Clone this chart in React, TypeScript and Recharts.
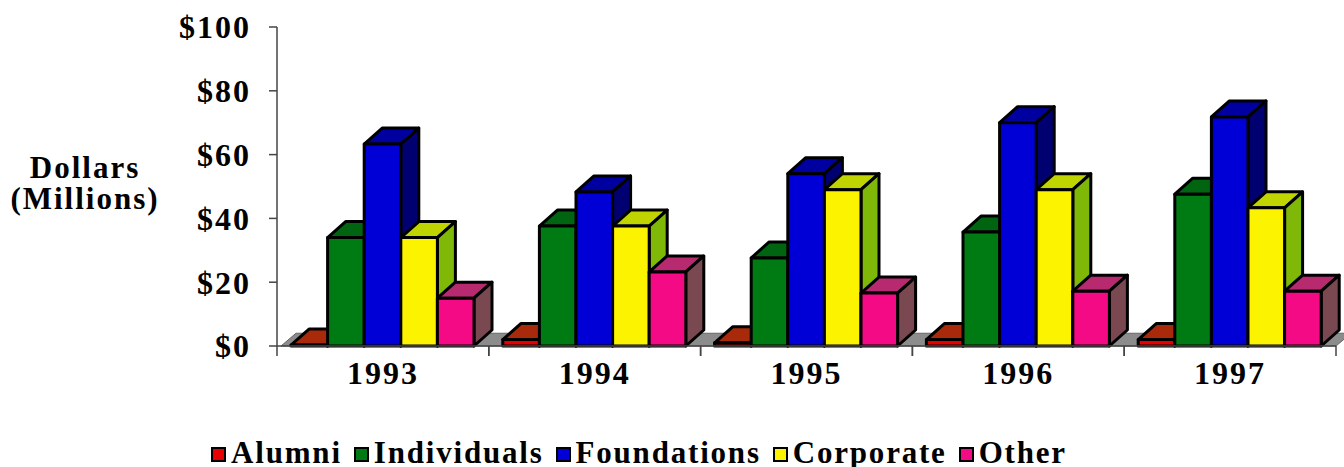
import { BarChart, Bar, XAxis, YAxis, Legend, ReferenceArea } from 'recharts';

const years = ['1993', '1994', '1995', '1996', '1997'];
const alumni = [0.3, 2, 1, 2, 2];
const individuals = [34, 37.6, 27.6, 35.7, 47.6];
const foundations = [63.3, 48.3, 54, 70, 71.8];
const corporate = [34, 37.6, 49, 49, 43.3];
const other = [15, 23.2, 16.6, 17.2, 17.2];
const yTicks = [0, 20, 40, 60, 80, 100];

const data = years.map((year, i) => ({
  year,
  Alumni: alumni[i],
  Individuals: individuals[i],
  Foundations: foundations[i],
  Corporate: corporate[i],
  Other: other[i],
}));

const series = [
  { key: 'Alumni', front: '#e60000', top: '#a82a0a', side: '#8a2408' },
  { key: 'Individuals', front: '#007a12', top: '#006410', side: '#004c0c' },
  { key: 'Foundations', front: '#0000d6', top: '#0000a0', side: '#000070' },
  { key: 'Corporate', front: '#fbf300', top: '#c0d400', side: '#80b808' },
  { key: 'Other', front: '#f50a85', top: '#b82a70', side: '#7a4850' },
];

const FONT = '"Liberation Serif", "Times New Roman", serif';
const DX = 18;
const DY = 16;
const BAND = 211.8;

// fake 3D column: front face plus top and side parallelograms
const Bar3D = ({ x, y, width, height, front, top, side }: any) => {
  const r = x + width;
  const b = y + height;
  return (
    <g stroke="#000" strokeWidth={3} strokeLinejoin="round">
      <path d={`M${x},${y} L${x + DX},${y - DY} L${r + DX},${y - DY} L${r},${y} Z`} fill={top} />
      <path d={`M${r},${y} L${r + DX},${y - DY} L${r + DX},${b - DY} L${r},${b} Z`} fill={side} />
      <rect x={x} y={y} width={width} height={height} fill={front} />
    </g>
  );
};

const Floor = ({ x, y, width, height }: any) => {
  const b = y + height;
  return (
    <path
      d={`M${x + 4},${b} L${x + 19},${y} L${x + width + 15},${y} L${x + width},${b} Z`}
      fill="#8c8c8c"
      stroke="#666"
      strokeWidth={1}
    />
  );
};

const AxisTitle = () => (
  <text x={85} y={178} textAnchor="middle" fontFamily={FONT} fontWeight="bold" fontSize={31} letterSpacing={2} fill="#000">
    <tspan x={85}>Dollars</tspan>
    <tspan x={85} dy={31}>(Millions)</tspan>
  </text>
);

const LegendRow = () => (
  <div style={{ display: 'flex', justifyContent: 'center', fontFamily: FONT, fontWeight: 'bold', fontSize: 31, letterSpacing: 1.8, color: '#000', lineHeight: '30px' }}>
    {series.map((s, i) => (
      <span key={s.key} style={{ display: 'flex', alignItems: 'center', marginRight: i < series.length - 1 ? 12 : 0 }}>
        <span style={{ width: 11, height: 11, marginRight: 5, marginTop: 3, background: s.front, border: '2.5px solid #000', display: 'inline-block' }} />
        {s.key}
      </span>
    ))}
  </div>
);

// tick marks sit between the years, so they are drawn with the year label
const YearTick = ({ x, y, payload }: any) => (
  <g>
    <line x1={x - BAND / 2} x2={x - BAND / 2} y1={y} y2={y + 10} stroke="#444" strokeWidth={1.5} />
    <line x1={x + BAND / 2} x2={x + BAND / 2} y1={y} y2={y + 10} stroke="#444" strokeWidth={1.5} />
    <text x={x} y={y + 38} textAnchor="middle" fontFamily={FONT} fontWeight="bold" fontSize={32} letterSpacing={2} fill="#000">
      {payload.value}
    </text>
  </g>
);

export default function App() {
  const tickStyle = { fontFamily: FONT, fontWeight: 'bold', fontSize: 32, letterSpacing: 2, fill: '#000' };
  return (
    <div style={{ position: 'absolute', left: 0, top: 0, width: 1344, height: 467, overflow: 'hidden' }}>
      <BarChart
        width={1344}
        height={467}
        data={data}
        margin={{ top: 27, right: 8, left: 0, bottom: 0 }}
        barSize={36.6}
        barGap={0}
      >
        <XAxis
          dataKey="year"
          height={91}
          tick={<YearTick />}
          tickLine={false}
          tickSize={0}
          tickMargin={0}
          axisLine={{ stroke: '#444', strokeWidth: 1.5 }}
          interval={0}
        />
        <YAxis
          width={277}
          domain={[0, 100]}
          ticks={yTicks}
          tick={tickStyle}
          tickSize={8}
          tickMargin={18}
          tickFormatter={v => `$${v}`}
          axisLine={{ stroke: '#444', strokeWidth: 1.5 }}
          tickLine={{ stroke: '#444', strokeWidth: 1.5 }}
          label={<AxisTitle />}
        />
        <ReferenceArea x1="1993" x2="1997" y1={0} y2={4} shape={<Floor />} ifOverflow="visible" />
        <Legend
          verticalAlign="bottom"
          content={<LegendRow />}
          wrapperStyle={{ left: 0, width: 1278, bottom: -1 }}
        />
        {series.map(s => (
          <Bar
            key={s.key}
            dataKey={s.key}
            isAnimationActive={false}
            shape={<Bar3D front={s.front} top={s.top} side={s.side} />}
          />
        ))}
      </BarChart>
    </div>
  );
}
